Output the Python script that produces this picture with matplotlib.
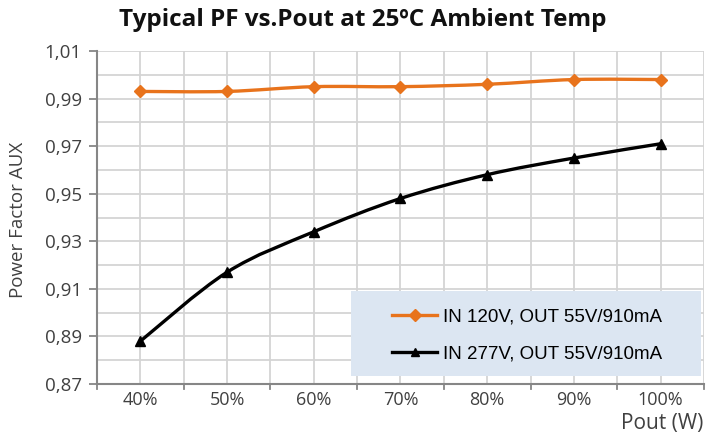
import numpy as np
import matplotlib
matplotlib.use("Agg")
import matplotlib.pyplot as plt
from matplotlib.path import Path
from matplotlib.patches import PathPatch, Rectangle
from matplotlib.lines import Line2D

categories = ["40%", "50%", "60%", "70%", "80%", "90%", "100%"]
pf_120v = [0.993, 0.993, 0.995, 0.995, 0.996, 0.998, 0.998]
pf_277v = [0.888, 0.917, 0.934, 0.948, 0.958, 0.965, 0.971]
labels = ["IN 120V, OUT 55V/910mA", "IN 277V, OUT 55V/910mA"]
colors = ["#E8731C", "#000000"]
markers = ["D", "^"]

plt.rcParams["font.family"] = ["Open Sans", "DejaVu Sans"]
TXT = "#404040"


def smooth_path(xs, ys, tension=1 / 6.0):
    # Catmull-Rom through the points, as cubic bezier segments
    pts = np.column_stack([xs, ys]).astype(float)
    verts = [pts[0]]
    codes = [Path.MOVETO]
    n = len(pts)
    for i in range(n - 1):
        p0 = pts[i - 1] if i > 0 else pts[i]
        p1, p2 = pts[i], pts[i + 1]
        p3 = pts[i + 2] if i + 2 < n else pts[i + 1]
        c1 = p1 + (p2 - p0) * tension
        c2 = p2 - (p3 - p1) * tension
        verts += [c1, c2, p2]
        codes += [Path.CURVE4] * 3
    return Path(verts, codes)


fig = plt.figure(figsize=(7.18, 4.36), dpi=100)
ax = fig.add_axes([97 / 718, 1 - 384 / 436, 607 / 718, 333 / 436])

x = np.arange(1, len(categories) + 1)
for ys, c, m in zip([pf_120v, pf_277v], colors, markers):
    ax.add_patch(PathPatch(smooth_path(x, ys), facecolor="none", edgecolor=c, lw=2.4, zorder=3))
    ax.plot(x, ys, linestyle="none", marker=m, color=c, ms=7 if m == "^" else 6, zorder=4)

yt = np.arange(0.87, 1.0101, 0.02)
ax.set_xlim(0.5, len(categories) + 0.5)
ax.set_ylim(0.87, 1.01)
ax.set_yticks(yt)
ax.set_yticklabels([("%.2f" % v).replace(".", ",") for v in yt])
ax.set_yticks(np.arange(0.87, 1.0101, 0.01), minor=True)
ax.set_xticks(x)
ax.set_xticklabels(categories)
ax.set_xticks(np.arange(0.5, len(categories) + 1, 0.5), minor=True)
ax.tick_params(axis="x", which="major", length=0, pad=5, labelsize=13, colors=TXT)
ax.tick_params(axis="x", which="minor", length=0)
ax.tick_params(axis="y", which="major", length=6, width=1.3, color="#868686", pad=5,
               labelsize=13.5, labelcolor=TXT)
ax.tick_params(axis="y", which="minor", length=0)
# boundary ticks on x axis
for b in np.arange(0.5, len(categories) + 1, 1.0):
    ax.plot([b, b], [0.87, 0.87 - 0.002], color="#868686", lw=1.3, clip_on=False, zorder=2)

ax.grid(True, which="both", color="#D4D4D4", lw=1.3)
ax.set_axisbelow(True)
for s in ["top", "right"]:
    ax.spines[s].set_visible(False)
for s in ["left", "bottom"]:
    ax.spines[s].set_color("#868686")
    ax.spines[s].set_linewidth(1.5)

fig.text(18 / 718, 1 - 220 / 436, "Power Factor AUX", rotation=90, ha="center", va="center",
         fontsize=13.5, color=TXT)
fig.text(703 / 718, 1 - 423 / 436, "Pout (W)", ha="right", va="center", fontsize=15, color=TXT)
fig.text(363 / 718, 1 - 20 / 436, "Typical PF vs.Pout at 25ºC Ambient Temp", ha="center",
         va="center", fontsize=17.5, fontweight="bold", color="#111111")

# legend box background, legend itself centred on it
ax.add_patch(Rectangle((351 / 718, 1 - 376 / 436), 350 / 718, 85 / 436,
                       transform=fig.transFigure, facecolor="#DCE6F2", edgecolor="none",
                       zorder=5, clip_on=False))
handles = [Line2D([], [], color=c, marker=m, lw=2.4, ms=6) for c, m in zip(colors, markers)]
leg = ax.legend(handles, labels, loc="center", bbox_to_anchor=(527 / 718, 1 - 335.5 / 436),
                bbox_transform=fig.transFigure, frameon=False,
                prop={"family": ["Liberation Sans"], "size": 13.5}, labelspacing=1.1,
                handlelength=2.4, handletextpad=0.3, borderpad=0, borderaxespad=0)
leg.set_zorder(6)

fig.savefig("out.png", dpi=100)
